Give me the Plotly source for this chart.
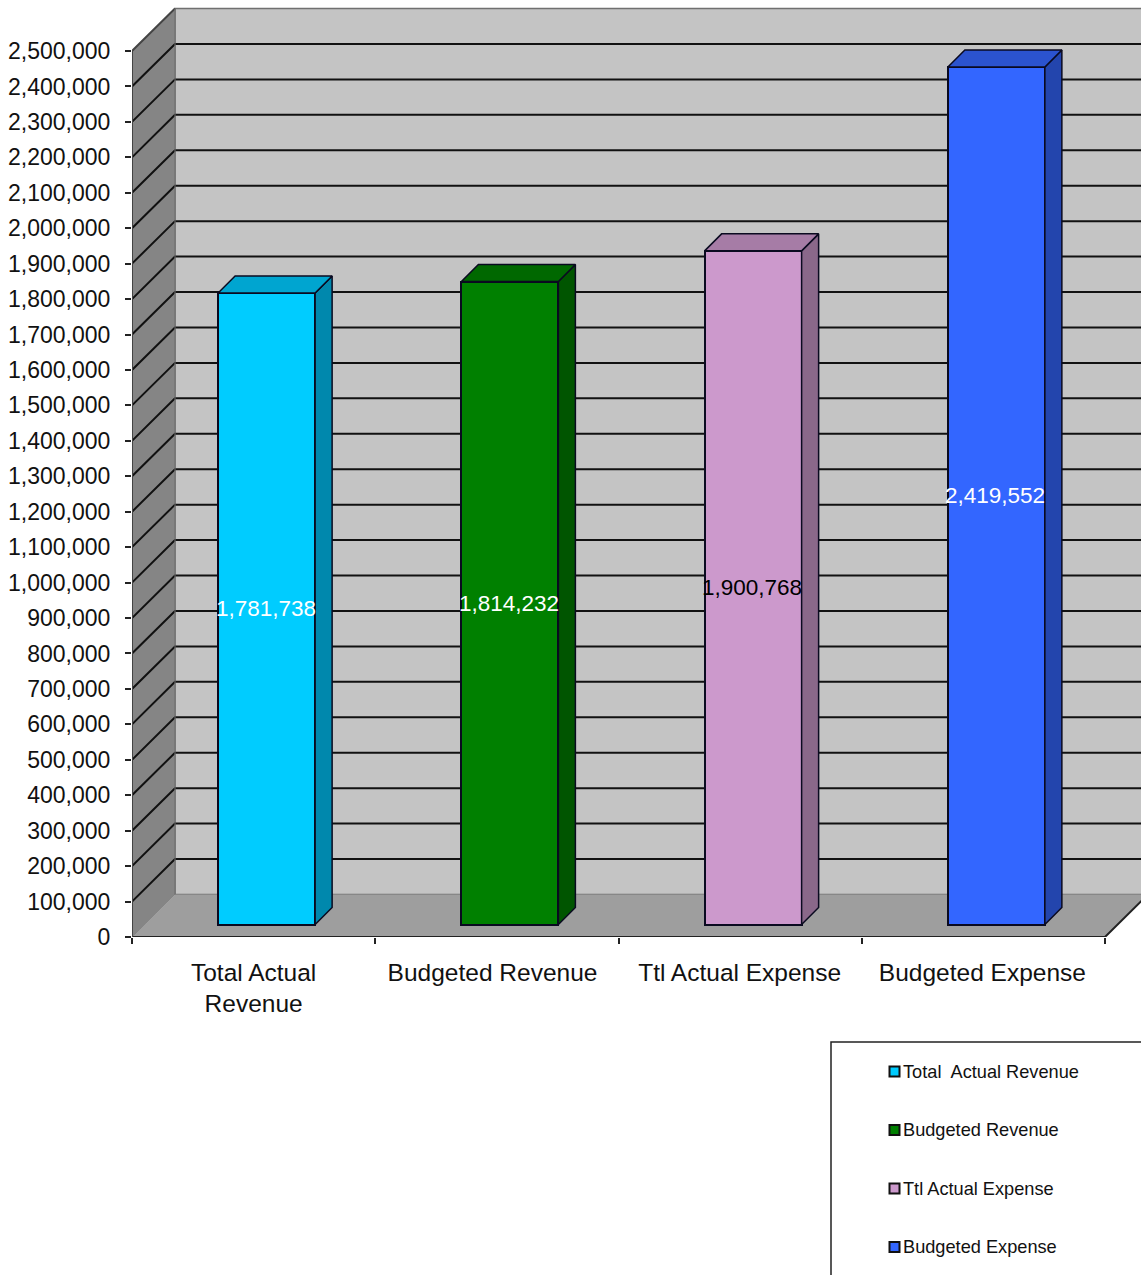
import plotly.graph_objects as go

# ---- data ----
axis_labels = ["Total Actual<br>Revenue", "Budgeted Revenue", "Ttl Actual Expense", "Budgeted Expense"]
legend_labels = ["Total  Actual Revenue", "Budgeted Revenue", "Ttl Actual Expense", "Budgeted Expense"]
values = [1781738, 1814232, 1900768, 2419552]
value_labels = ["1,781,738", "1,814,232", "1,900,768", "2,419,552"]
front_colors = ["#00CCFF", "#008000", "#CC99CC", "#3366FF"]
side_colors = ["#0088AD", "#005500", "#8A688A", "#2345AD"]
top_colors = ["#00A5D0", "#006800", "#A67CA6", "#2B53CF"]
label_colors = ["white", "white", "black", "white"]
y_ticks = list(range(0, 2500001, 100000))

# ---- page geometry (pixels) ----
W, H = 1141, 1275
X0, Y0 = 132, 937          # origin of the axes
PX_PER_CAT = 243.25
PX_PER_UNIT = 886 / 2500000
DEPTH_X, DEPTH_Y = 43, 42.5   # wall depth
BAR_FRONT_X, BAR_FRONT_Y = 13, 12.5
BAR_DEPTH = 17
BAR_W = 97
FONT = "Liberation Sans, Arial, sans-serif"
EDGE = "#0A0A20"

dx = lambda px: px / PX_PER_CAT
dy = lambda px: px / PX_PER_UNIT

x_min = -0.5
x_max = x_min + (W - X0) / PX_PER_CAT
x_end = x_min + len(values)

fig = go.Figure()


def poly(xs, ys, fill, line="rgba(0,0,0,0)", width=0, axes=("x", "y")):
    fig.add_trace(go.Scatter(x=xs + xs[:1], y=ys + ys[:1], mode="lines", fill="toself",
                             fillcolor=fill, line=dict(color=line, width=width),
                             xaxis=axes[0], yaxis=axes[1], hoverinfo="skip", showlegend=False))


D_X, D_Y = dx(DEPTH_X), dy(DEPTH_Y)
y_top = 2500000

# walls and floor
poly([x_min + D_X, x_end + D_X + 0.5, x_end + D_X + 0.5, x_min + D_X],
     [D_Y, D_Y, D_Y + y_top, D_Y + y_top], "#C4C4C4", "#707070", 1.5)
poly([x_min, x_min + D_X, x_min + D_X, x_min],
     [0, D_Y, D_Y + y_top, y_top], "#858585", "#707070", 1)
poly([x_min, x_end, x_end + D_X, x_min + D_X],
     [0, 0, D_Y, D_Y], "#9E9E9E")

# grid lines: back wall and side wall
gx, gy = [], []
for v in y_ticks[1:-1]:
    gx += [x_min, x_min + D_X, x_end + D_X + 0.5, None]
    gy += [v, v + D_Y, v + D_Y, None]
fig.add_trace(go.Scatter(x=gx, y=gy, mode="lines", line=dict(color="#111111", width=2),
                         hoverinfo="skip", showlegend=False))

# floor edges and axis lines
fig.add_trace(go.Scatter(x=[x_min, x_end, x_end + D_X], y=[0, 0, D_Y], mode="lines",
                         line=dict(color="#222222", width=2), hoverinfo="skip", showlegend=False))
fig.add_trace(go.Scatter(x=[x_min, x_min, x_min + D_X], y=[0, y_top, y_top + D_Y], mode="lines",
                         line=dict(color="#444444", width=2), hoverinfo="skip", showlegend=False))
fig.add_trace(go.Scatter(x=[x_min + D_X, x_min + D_X], y=[D_Y, D_Y + y_top], mode="lines",
                         line=dict(color="#777777", width=1), hoverinfo="skip", showlegend=False))

# bars live on an overlaid pair of axes so that they sit above the filled walls
cx = [i + dx(BAR_FRONT_X) for i in range(len(values))]
f_y = dy(BAR_FRONT_Y)
b_x = dx(BAR_DEPTH)
b_y = dy(BAR_DEPTH)
half = dx(BAR_W) / 2

fig.add_trace(go.Bar(x=cx, y=values, base=f_y, width=dx(BAR_W), xaxis="x2", yaxis="y2",
                     marker=dict(color=front_colors, line=dict(color=EDGE, width=2)),
                     hoverinfo="skip", showlegend=False))

for c, v, sc, tc in zip(cx, values, side_colors, top_colors):
    poly([c + half, c + half + b_x, c + half + b_x, c + half],
         [f_y, f_y + b_y, f_y + b_y + v, f_y + v], sc, EDGE, 1.5, ("x2", "y2"))
    poly([c - half, c + half, c + half + b_x, c - half + b_x],
         [f_y + v, f_y + v, f_y + v + b_y, f_y + v + b_y], tc, EDGE, 1.5, ("x2", "y2"))

annotations = []
# value labels
for c, v, txt, col in zip(cx, values, value_labels, label_colors):
    annotations.append(dict(xref="x2", yref="y2", x=c, y=f_y + v / 2, text=txt, showarrow=False,
                            xanchor="center", yanchor="middle", borderpad=0, xshift=-1,
                            font=dict(family=FONT, size=22.5, color=col)))

# legend box (clipped by the page like the reference)
px = lambda x: x / W
py = lambda y: 1 - y / H
shapes = [dict(type="rect", xref="paper", yref="paper", x0=px(831), x1=px(W + 10), y0=py(H + 10), y1=py(1042),
               line=dict(color="#222222", width=1.5), fillcolor="white", layer="above")]
rows = [1071.5, 1130, 1188.5, 1247]
for yy, lab, col in zip(rows, legend_labels, front_colors):
    shapes.append(dict(type="rect", xref="paper", yref="paper", x0=px(889.5), x1=px(899.5),
                       y0=py(yy + 5), y1=py(yy - 5), fillcolor=col,
                       line=dict(color="#111111", width=2), layer="above"))
    annotations.append(dict(xref="paper", yref="paper", x=px(902), y=py(yy), text=lab, showarrow=False,
                            xanchor="left", yanchor="middle", borderpad=0,
                            font=dict(family=FONT, size=18.2, color="#111111")))

y_range = [0, Y0 / PX_PER_UNIT]
x_dom = [X0 / W, 1]
y_dom = [1 - Y0 / H, 1]
label_nudge = [0, -0.018, -0.002, -0.004]

fig.update_layout(
    width=W, height=H, margin=dict(l=0, r=0, t=0, b=0, autoexpand=False),
    paper_bgcolor="white", plot_bgcolor="rgba(0,0,0,0)", showlegend=False, bargap=0,
    shapes=shapes, annotations=annotations,
    xaxis=dict(domain=x_dom, range=[x_min, x_max], showgrid=False, zeroline=False, showline=False,
               tickmode="array", tickvals=[i + n for i, n in enumerate(label_nudge)], ticktext=axis_labels,
               ticks="", ticklabelstandoff=18, automargin=False,
               tickfont=dict(family=FONT, size=24.5, color="#111111"),
               minor=dict(tick0=-0.5, dtick=1, ticks="outside", ticklen=6, tickwidth=1.5,
                          tickcolor="#222222", showgrid=False)),
    yaxis=dict(domain=y_dom, range=y_range, showgrid=False, zeroline=False,
               showline=False, tickmode="array", tickvals=y_ticks,
               ticktext=[f"{v:,}" for v in y_ticks], ticks="outside", ticklen=6, tickwidth=1.5,
               tickcolor="#222222", ticklabelstandoff=10, automargin=False,
               tickfont=dict(family=FONT, size=23, color="#111111")),
    xaxis2=dict(domain=x_dom, range=[x_min, x_max], overlaying="x", visible=False, anchor="y2"),
    yaxis2=dict(domain=y_dom, range=y_range, overlaying="y", visible=False, anchor="x2"),
)

fig.write_html("out.html", config={"displayModeBar": False},
               post_script="document.body.style.margin='0';")
